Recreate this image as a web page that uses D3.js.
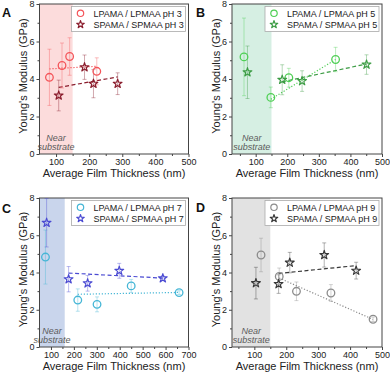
<!DOCTYPE html>
<html><head><meta charset="utf-8">
<script src="https://cdn.jsdelivr.net/npm/d3@7"></script>
<style>
body{margin:0;background:#fff}
svg{display:block}
text{font-family:"Liberation Sans",Arial,Helvetica,sans-serif}
</style>
</head><body>
<svg id="chart" width="390" height="380"></svg>
<script>
// ---------- data ----------
const panelLetters = ["A","B","C","D"];
const phValues = ["3","5","7","9"];
const yTicks = [0,2,4,6,8];
const yMinor = [1,3,5,7];
const xTicks500 = [100,200,300,400,500];
const xMinor500 = [50,150,250,350,450];
const xTicks700 = [100,200,300,400,500,600,700];
const xMinor700 = [150,250,350,450,550,650];
const nearSubstrateEnd = [150,150,160,150];

// A (pH 3)
const aLpX=[80,118,141,223], aLpY=[4.09,4.72,5.2,4.41], aLpE=[1.5,1.2,1.0,0.72];
const aSpX=[108,186,213,286], aSpY=[3.12,4.63,3.75,3.75], aSpE=[0.82,0.65,0.75,0.58];
const aLpFitX=[80,223], aLpFitY=[4.54,4.68];
const aSpFitX=[108,286], aSpFitY=[3.55,4.11];
// B (pH 5)
const bLpX=[63,148,205,353], bLpY=[5.18,3.02,4.07,5.04], bLpE=[2.07,0.55,0.5,0.65];
const bSpX=[74,184,247,451], bSpY=[4.36,3.96,3.89,4.77], bSpE=[1.4,0.8,0.55,0.52];
const bLpFitX=[148,353], bLpFitY=[2.92,5.04];
const bSpFitX=[184,451], bSpFitY=[3.85,4.8];
// C (pH 7)
const cLpX=[76,217,301,450,659], cLpY=[4.83,2.52,2.29,3.28,2.92], cLpE=[1.45,0.6,0.4,0.35,0.1];
const cSpX=[81,177,260,398,588], cSpY=[6.67,3.64,3.42,4.09,3.69], cSpE=[1.3,0.68,0.42,0.4,0.12];
const cLpFitX=[217,659], cLpFitY=[2.83,2.93];
const cSpFitX=[177,588], cSpFitY=[3.97,3.7];
// D (pH 9)
const dLpX=[121,178,232,340,472], dLpY=[4.94,3.79,2.99,2.9,1.49], dLpE=[0.9,0.45,0.5,0.45,0.12];
const dSpX=[105,176,211,319,419], dSpY=[3.43,3.38,4.53,4.94,4.1], dSpE=[0.85,0.5,0.55,0.65,0.45];
const dLpFitX=[178,472], dLpFitY=[3.7,1.48];
const dSpFitX=[176,419], dSpFitY=[3.95,4.37];

// ---------- layout / style ----------
const panels = [
  {left:39.5,right:188.5,top:4,bottom:154,xd:[50,500],tk:xTicks500,mn:xMinor500,
   lp:[aLpX,aLpY,aLpE],sp:[aSpX,aSpY,aSpE],lf:[aLpFitX,aLpFitY],sf:[aSpFitX,aSpFitY],
   cL:"#f4555a",cS:"#8a1c2c",shade:"#fcdcdc",lx:2,ly:17},
  {left:232,right:382,top:4,bottom:154,xd:[25,500],tk:xTicks500,mn:xMinor500,
   lp:[bLpX,bLpY,bLpE],sp:[bSpX,bSpY,bSpE],lf:[bLpFitX,bLpFitY],sf:[bSpFitX,bSpFitY],
   cL:"#4fcf55",cS:"#3c9c44",shade:"#d6efe3",lx:196,ly:17},
  {left:39.5,right:188.5,top:198,bottom:347,xd:[50,700],tk:xTicks700,mn:xMinor700,
   lp:[cLpX,cLpY,cLpE],sp:[cSpX,cSpY,cSpE],lf:[cLpFitX,cLpFitY],sf:[cSpFitX,cSpFitY],
   cL:"#45b6d6",cS:"#4a4ad2",shade:"#c9d5ec",lx:2,ly:213},
  {left:232,right:382,top:198,bottom:347,xd:[30,500],tk:xTicks500,mn:xMinor500,
   lp:[dLpX,dLpY,dLpE],sp:[dSpX,dSpY,dSpE],lf:[dLpFitX,dLpFitY],sf:[dSpFitX,dSpFitY],
   cL:"#8c8c8c",cS:"#383838",shade:"#e2e2e2",lx:196,ly:212}
];

const svg = d3.select("#chart");
const axisColor = "#444";

panels.forEach((p,i)=>{
  const g = svg.append("g");
  const x = d3.scaleLinear().domain(p.xd).range([p.left,p.right]);
  const y = d3.scaleLinear().domain([0,8]).range([p.bottom,p.top]);

  // shading
  g.append("rect").attr("x",x(p.xd[0])).attr("y",y(8))
    .attr("width",x(nearSubstrateEnd[i])-x(p.xd[0])).attr("height",y(0)-y(8))
    .attr("fill",p.shade);
  const cx=(x(p.xd[0])+x(nearSubstrateEnd[i]))/2;
  g.append("text").attr("x",cx).attr("y",p.bottom-13.5).attr("text-anchor","middle")
    .attr("font-size",9).attr("font-style","italic").attr("fill","#5a5a5a").text("Near");
  g.append("text").attr("x",cx).attr("y",p.bottom-4).attr("text-anchor","middle")
    .attr("font-size",9).attr("font-style","italic").attr("fill","#5a5a5a").text("substrate");

  // frame
  g.append("rect").attr("x",p.left).attr("y",p.top).attr("width",p.right-p.left)
    .attr("height",p.bottom-p.top).attr("fill","none").attr("stroke",axisColor).attr("stroke-width",1);

  // axes
  const xa = g.append("g").attr("transform",`translate(0,${p.bottom})`)
    .call(d3.axisBottom(x).tickValues(p.tk).tickSize(3).tickPadding(1.5).tickFormat(d3.format("d")));
  const xm = g.append("g").attr("transform",`translate(0,${p.bottom})`)
    .call(d3.axisBottom(x).tickValues(p.mn.filter(v=>v>p.xd[0])).tickSize(2).tickFormat(""));
  const ya = g.append("g").attr("transform",`translate(${p.left},0)`)
    .call(d3.axisLeft(y).tickValues(yTicks).tickSize(3).tickPadding(2));
  const ym = g.append("g").attr("transform",`translate(${p.left},0)`)
    .call(d3.axisLeft(y).tickValues(yMinor).tickSize(2).tickFormat(""));
  [xa,xm,ya,ym].forEach(a=>{
    a.select(".domain").remove();
    a.selectAll("line").attr("stroke",axisColor);
    a.selectAll("text").attr("font-size",9).attr("fill","#222")
      .attr("font-family",'"Liberation Sans",Arial,sans-serif');
  });

  // titles
  g.append("text").attr("x",(p.left+p.right)/2).attr("y",p.bottom+23).attr("text-anchor","middle")
    .attr("font-size",11).attr("fill","#222").text("Average Film Thickness (nm)");
  g.append("text").attr("transform",`translate(${p.left-12.5},${(p.top+p.bottom)/2-3}) rotate(-90)`)
    .attr("text-anchor","middle").attr("font-size",11).attr("fill","#222").text("Young's Modulus (GPa)");
  g.append("text").attr("x",p.lx).attr("y",p.ly).attr("font-size",12.5).attr("font-weight","bold")
    .attr("fill","#111").text(panelLetters[i]);

  // fits
  const line = d3.line().x(d=>x(d[0])).y(d=>y(d[1]));
  g.append("path").attr("d",line(d3.zip(p.lf[0],p.lf[1]))).attr("fill","none")
    .attr("stroke",p.cL).attr("stroke-width",1.2).attr("stroke-dasharray","1.2,1.8");
  g.append("path").attr("d",line(d3.zip(p.sf[0],p.sf[1]))).attr("fill","none")
    .attr("stroke",p.cS).attr("stroke-width",1.2).attr("stroke-dasharray","4,2.5");

  const clip = "clip"+i;
  svg.append("clipPath").attr("id",clip).append("rect")
    .attr("x",p.left).attr("y",p.top).attr("width",p.right-p.left).attr("height",p.bottom-p.top);

  function errs(ser,col){
    const d = d3.zip(ser[0],ser[1],ser[2]);
    const eg = g.append("g").attr("clip-path",`url(#${clip})`).attr("stroke",col)
      .attr("stroke-opacity",0.38).attr("stroke-width",1);
    eg.selectAll(".v").data(d).join("line").attr("x1",d=>x(d[0])).attr("x2",d=>x(d[0]))
      .attr("y1",d=>y(d[1]+d[2])).attr("y2",d=>y(d[1]-d[2]));
    eg.selectAll(".t").data(d).join("line").attr("x1",d=>x(d[0])-2).attr("x2",d=>x(d[0])+2)
      .attr("y1",d=>y(d[1]+d[2])).attr("y2",d=>y(d[1]+d[2]));
    eg.selectAll(".b").data(d).join("line").attr("x1",d=>x(d[0])-2).attr("x2",d=>x(d[0])+2)
      .attr("y1",d=>y(d[1]-d[2])).attr("y2",d=>y(d[1]-d[2]));
    return d;
  }
  const dl = errs(p.lp,p.cL);
  const ds = errs(p.sp,p.cS);
  g.selectAll(".cm").data(dl).join("circle").attr("cx",d=>x(d[0])).attr("cy",d=>y(d[1]))
    .attr("r",3.8).attr("fill","none").attr("stroke",p.cL).attr("stroke-width",1.3);
  const star = d3.symbol().type(d3.symbolStar).size(24);
  g.selectAll(".sm").data(ds).join("path").attr("d",star)
    .attr("transform",d=>`translate(${x(d[0])},${y(d[1])})`)
    .attr("fill","none").attr("stroke",p.cS).attr("stroke-width",1.15).attr("stroke-linejoin","round");

  // legend
  const lw=114, lh=25, lx=p.right-3-lw, ly=p.top+2.5;
  const lg = g.append("g");
  lg.append("rect").attr("x",lx).attr("y",ly).attr("width",lw).attr("height",lh)
    .attr("fill","#fff").attr("stroke","#aaa").attr("stroke-width",0.8);
  lg.append("circle").attr("cx",lx+9).attr("cy",ly+6.8).attr("r",3.2).attr("fill","none")
    .attr("stroke",p.cL).attr("stroke-width",1.2);
  lg.append("path").attr("d",d3.symbol().type(d3.symbolStar).size(18)())
    .attr("transform",`translate(${lx+9},${ly+18})`).attr("fill","none")
    .attr("stroke",p.cS).attr("stroke-width",1.1).attr("stroke-linejoin","round");
  lg.append("text").attr("x",lx+22).attr("y",ly+10).attr("font-size",9).attr("fill","#222")
    .text(`LPAMA / LPMAA pH ${phValues[i]}`);
  lg.append("text").attr("x",lx+22).attr("y",ly+21.2).attr("font-size",9).attr("fill","#222")
    .text(`SPAMA / SPMAA pH ${phValues[i]}`);
});
</script>
</body></html>
